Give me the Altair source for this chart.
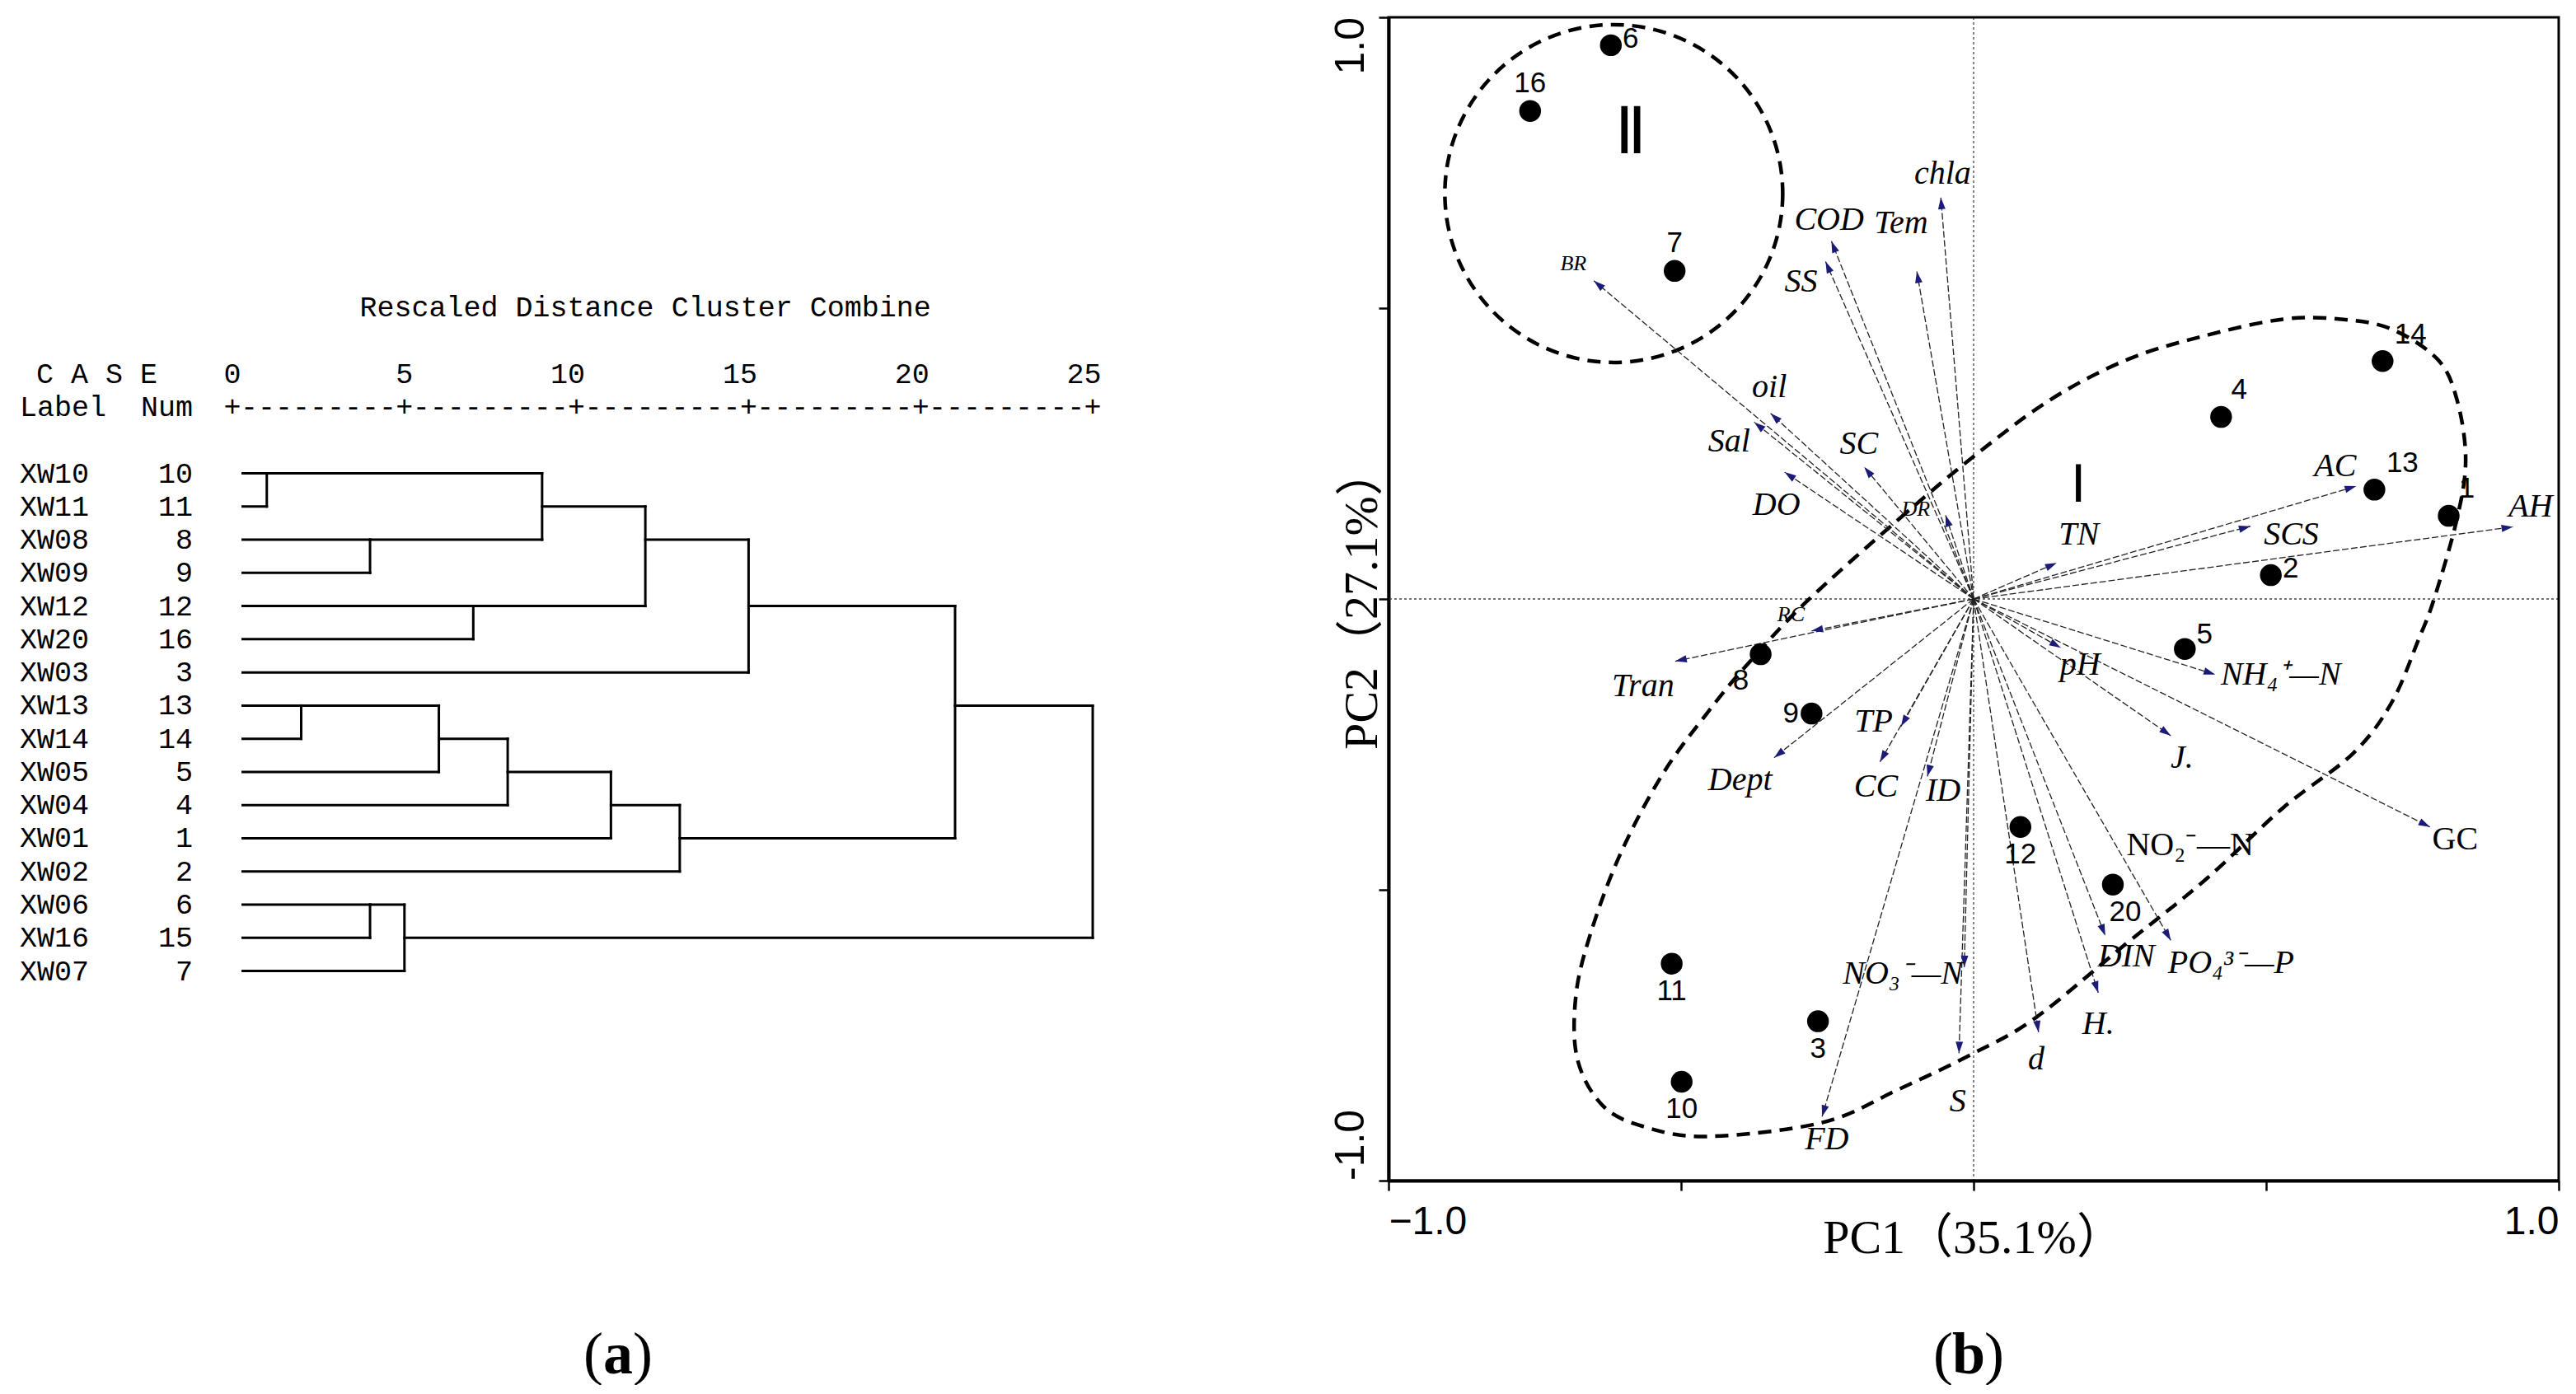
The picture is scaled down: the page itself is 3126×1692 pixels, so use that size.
import math
import pandas as pd
import altair as alt

# ===================== (a) cluster dendrogram =====================
CASE_LABELS = ["XW10", "XW11", "XW08", "XW09", "XW12", "XW20", "XW03", "XW13",
               "XW14", "XW05", "XW04", "XW01", "XW02", "XW06", "XW16", "XW07"]
CASE_NUMS = [10, 11, 8, 9, 12, 16, 3, 13, 14, 5, 4, 1, 2, 6, 15, 7]
# agglomeration schedule: ids 0..15 are leaves (display order), merged clusters get 16, 17, ...
MERGE_A = [0, 2, 16, 4, 18, 20, 7, 22, 23, 24, 25, 13, 27, 21, 29]
MERGE_B = [1, 3, 17, 5, 19, 6, 8, 9, 10, 11, 12, 14, 15, 26, 28]
MERGE_DIST = [1, 4, 9, 7, 12, 15, 2, 6, 8, 11, 13, 4, 5, 21, 25]
DIST_TICKS = [0, 5, 10, 15, 20, 25]
LEAF_START = 0.3

# ===================== (b) PCA biplot =====================
SITE_IDS = ["6", "16", "7", "14", "4", "13", "1", "2", "5", "8", "9", "12", "20", "11", "3", "10"]
SITE_PC1 = [-0.620, -0.758, -0.511, 0.699, 0.423, 0.685, 0.812, 0.508, 0.361, -0.364,
            -0.277, 0.080, 0.238, -0.516, -0.266, -0.499]
SITE_PC2 = [0.952, 0.839, 0.564, 0.409, 0.313, 0.188, 0.143, 0.041, -0.086, -0.095,
            -0.197, -0.392, -0.491, -0.627, -0.726, -0.830]
SITE_LABEL_POS = ["r", "u", "u", "ur2", "ur1", "ur2", "ur1", "r", "ru", "dl", "l", "d", "dr", "d", "d", "d"]

VAR_NAMES = ["BR", "COD", "SS", "Tem", "chla", "oil", "Sal", "SC", "DO", "DR", "RC", "Tran",
             "Dept", "TP", "CC", "ID", "FD", "NO3", "S", "pH", "NH4", "J.", "GC", "DIN", "PO4",
             "H.", "d", "AC", "SCS", "TN", "AH"]
VAR_PC1 = [-0.649, -0.243, -0.253, -0.097, -0.056, -0.347, -0.375, -0.187, -0.323, -0.048,
           -0.277, -0.510, -0.341, -0.124, -0.160, -0.079, -0.259, -0.016, -0.025, 0.149,
           0.413, 0.337, 0.780, 0.225, 0.337, 0.213, 0.111, 0.654, 0.473, 0.142, 0.922]
VAR_PC2 = [0.547, 0.615, 0.580, 0.563, 0.690, 0.319, 0.304, 0.227, 0.218, 0.144,
           -0.055, -0.107, -0.273, -0.219, -0.280, -0.305, -0.890, -0.633, -0.781, -0.084,
           -0.130, -0.235, -0.392, -0.579, -0.587, -0.677, -0.745, 0.194, 0.125, 0.062, 0.124]

VLABEL_TEXT = ["BR", "COD", "SS", "Tem", "chla", "oil", "Sal", "SC", "DO", "DR", "RC", "Tran",
               "Dept", "TP", "CC", "ID", "FD", "NO₃⁻—N", "S", "pH", "NH₄⁺—N", "J.", "GC",
               "NO₂⁻—N", "DIN", "PO₄³⁻—P", "H.", "d", "AC", "SCS", "TN", "AH"]
VLABEL_X = [-0.684, -0.247, -0.295, -0.124, -0.053, -0.349, -0.418, -0.196, -0.337, -0.099,
            -0.312, -0.565, -0.399, -0.171, -0.167, -0.052, -0.251, -0.121, -0.027, 0.182,
            0.525, 0.356, 0.823, 0.370, 0.261, 0.440, 0.213, 0.107, 0.618, 0.543, 0.180, 0.952]
VLABEL_Y = [0.577, 0.652, 0.546, 0.646, 0.731, 0.364, 0.271, 0.266, 0.161, 0.155,
            -0.027, -0.150, -0.312, -0.211, -0.323, -0.330, -0.929, -0.644, -0.864, -0.114,
            -0.130, -0.273, -0.413, -0.424, -0.615, -0.626, -0.731, -0.792, 0.228, 0.110, 0.110, 0.158]
VLABEL_STYLE = ["s", "i", "i", "i", "i", "i", "i", "i", "i", "s", "s", "i",
                "i", "i", "i", "i", "i", "i", "i", "i", "i", "i", "u",
                "u", "i", "i", "i", "i", "i", "i", "i", "i"]

# dashed outline of group I (traced)
GROUP1_X = [-0.287, -0.128, 0.000, 0.132, 0.264, 0.397, 0.529, 0.628, 0.714, 0.793, 0.826,
            0.841, 0.826, 0.787, 0.760, 0.714, 0.648, 0.529, 0.397, 0.264, 0.106, 0.000,
            -0.128, -0.258, -0.453, -0.561, -0.633, -0.677, -0.680, -0.655, -0.604, -0.532,
            -0.453, -0.388]
GROUP1_Y = [-0.006, 0.137, 0.245, 0.343, 0.412, 0.453, 0.481, 0.481, 0.464, 0.412, 0.343,
            0.240, 0.137, 0.000, -0.071, -0.179, -0.266, -0.359, -0.482, -0.590, -0.720, -0.781,
            -0.843, -0.900, -0.924, -0.908, -0.872, -0.792, -0.684, -0.576, -0.439, -0.302,
            -0.193, -0.114]
# group II circle centre
GROUP2_X = [-0.615]
GROUP2_Y = [0.697]
GROUP_NAMES = ["Ⅰ", "Ⅱ"]
GROUP_LX = [0.179, -0.586]
GROUP_LY = [0.194, 0.799]
AXIS_TICKS = [-1.0, -0.5, 0.0, 0.5, 1.0]
EDGE_LABELS = ["1.0", "-1.0"]
EDGE_VALUES = [1.0, -1.0]

# ===================== styling =====================
SERIF = "Times New Roman, Liberation Serif, Noto Sans CJK SC, serif"
SANS = "Arial, Liberation Sans, DejaVu Sans, sans-serif"
NARROW = "Arial Narrow, Liberation Sans Narrow, Liberation Sans, sans-serif"
MONO = "Courier New, Liberation Mono, DejaVu Sans Mono, monospace"

# ---------- left panel ----------
WL, HL = 1400, 1414
xl = alt.Scale(domain=[-6.561, 26.963], nice=False, zero=False)
yl = alt.Scale(domain=[-13.745, 21.368], nice=False, zero=False, reverse=True)


def LX(f):
    return alt.X(f"{f}:Q", scale=xl, axis=None)


def LY(f):
    return alt.Y(f"{f}:Q", scale=yl, axis=None)


pos = {i: (i, LEAF_START) for i in range(len(CASE_LABELS))}
segs = []
for k, (a, b, h) in enumerate(zip(MERGE_A, MERGE_B, MERGE_DIST)):
    ra, xa = pos[a]
    rb, xb = pos[b]
    segs.append(dict(x=xa, x2=h, y=ra, y2=ra))
    segs.append(dict(x=xb, x2=h, y=rb, y2=rb))
    segs.append(dict(x=h, x2=h, y=min(ra, rb), y2=max(ra, rb)))
    pos[len(CASE_LABELS) + k] = ((ra + rb) // 2, h)
seg_df = pd.DataFrame(segs)

dendro = alt.Chart(seg_df).mark_rule(color="black", strokeWidth=3, strokeCap="square").encode(
    x=LX("x"), x2="x2:Q", y=LY("y"), y2="y2:Q")

leaf_df = pd.DataFrame({"row": list(range(len(CASE_LABELS))), "label": CASE_LABELS,
                        "num": [str(n) for n in CASE_NUMS]})
txt = dict(font=MONO, fontSize=35, color="black", baseline="middle")
leaf_lab = alt.Chart(leaf_df).mark_text(align="left", **txt).encode(
    x=alt.value(16), y=LY("row"), text="label:N")
leaf_num = alt.Chart(leaf_df).mark_text(align="right", **txt).encode(
    x=alt.value(226), y=LY("row"), text="num:N")

tick_df = pd.DataFrame({"v": DIST_TICKS, "t": [str(v) for v in DIST_TICKS],
                        "r_num": -3, "r_rule": -2})
tick_num = alt.Chart(tick_df).mark_text(align="right", dx=10.5, **txt).encode(
    x=LX("v"), y=LY("r_num"), text="t:N")
tick_plus = alt.Chart(tick_df).mark_text(align="center", **txt).encode(
    x=LX("v"), y=LY("r_rule"), text=alt.value("+"))
mids = [(DIST_TICKS[i] + DIST_TICKS[i + 1]) / 2 for i in range(len(DIST_TICKS) - 1)]
dash_df = pd.DataFrame({"v": mids, "r": -2})
tick_dash = alt.Chart(dash_df).mark_text(align="center", **txt).encode(
    x=LX("v"), y=LY("r"), text=alt.value("---------"))

hdr_df = pd.DataFrame({"r": [-5], "v": [12.0]})
title_a = alt.Chart(hdr_df).mark_text(align="center", **txt).encode(
    x=LX("v"), y=LY("r"), text=alt.value("Rescaled Distance Cluster Combine"))
case_df = pd.DataFrame({"r": [-3, -2, -2], "t": ["C A S E", "Label", "Num"]})
case_l = alt.Chart(case_df).transform_filter("datum.t == 'C A S E'").mark_text(align="left", **txt).encode(
    x=alt.value(36), y=LY("r"), text="t:N")
lab_l = alt.Chart(case_df).transform_filter("datum.t == 'Label'").mark_text(align="left", **txt).encode(
    x=alt.value(16), y=LY("r"), text="t:N")
num_l = alt.Chart(case_df).transform_filter("datum.t == 'Num'").mark_text(align="right", **txt).encode(
    x=alt.value(226), y=LY("r"), text="t:N")

one = pd.DataFrame({"a": [0]})
CAP_Y = 1645.5
cap = dict(font=SERIF, fontSize=72, color="black", baseline="alphabetic")
a1 = alt.Chart(one).mark_text(align="right", **cap).encode(x=alt.value(742 - 18), y=alt.value(CAP_Y), text=alt.value("("))
a2 = alt.Chart(one).mark_text(align="center", fontWeight="bold", **cap).encode(x=alt.value(742), y=alt.value(CAP_Y), text=alt.value("a"))
a3 = alt.Chart(one).mark_text(align="left", **cap).encode(x=alt.value(742 + 18), y=alt.value(CAP_Y), text=alt.value(")"))

left = alt.layer(dendro, leaf_lab, leaf_num, tick_num, tick_plus, tick_dash, title_a,
                 case_l, lab_l, num_l, a1, a2, a3).properties(width=WL, height=HL)

# ---------- right panel ----------
W, H = 1420, 1412
xs = alt.Scale(domain=[-1, 1], nice=False, zero=False)
ys = alt.Scale(domain=[-1, 1], nice=False, zero=False)
AX_X = alt.Axis(values=AXIS_TICKS, title=None, grid=False, domainColor="black", domainWidth=4,
                tickColor="black", tickWidth=2.5, tickSize=12,
                labelExpr="abs(datum.value) == 1 ? format(datum.value, '.1f') : ''",
                labelFlush=True, labelFont=NARROW, labelFontSize=48, labelColor="black",
                labelPadding=14)
AX_Y = alt.Axis(values=AXIS_TICKS, title=None, grid=False, domainColor="black", domainWidth=4,
                tickColor="black", tickWidth=2.5, tickSize=12, labels=False)


def RX(f):
    return alt.X(f"{f}:Q", scale=xs, axis=AX_X)


def RY(f):
    return alt.Y(f"{f}:Q", scale=ys, axis=AX_Y)


zero_df = pd.DataFrame({"v": [0.0]})
vline = alt.Chart(zero_df).mark_rule(color="#444", strokeWidth=1.3, strokeDash=[3, 3]).encode(x=RX("v"))
hline = alt.Chart(zero_df).mark_rule(color="#444", strokeWidth=1.3, strokeDash=[3, 3]).encode(y=RY("v"))

g1_df = pd.DataFrame({"x": GROUP1_X, "y": GROUP1_Y, "i": list(range(len(GROUP1_X)))})
group1 = alt.Chart(g1_df).mark_line(interpolate="cardinal-closed", color="black", strokeWidth=4.5,
                                    strokeDash=[16, 10]).encode(x=RX("x"), y=RY("y"), order="i:Q")
g2_df = pd.DataFrame({"x": GROUP2_X, "y": GROUP2_Y})
group2 = alt.Chart(g2_df).mark_point(shape="circle", filled=False, color="black", strokeWidth=4.5,
                                     strokeDash=[16, 10], size=410 * 410, opacity=1).encode(
    x=RX("x"), y=RY("y"))

var_df = pd.DataFrame({"name": VAR_NAMES, "x": VAR_PC1, "y": VAR_PC2, "ox": 0.0, "oy": 0.0})
var_df["ang"] = [(math.degrees(math.atan2(x, y)) + 360) % 360 for x, y in zip(VAR_PC1, VAR_PC2)]
arrows = alt.Chart(var_df).mark_rule(color="#222", strokeWidth=1.3, strokeDash=[8, 3]).encode(
    x=RX("ox"), y=RY("oy"), x2="x:Q", y2="y:Q")
heads = alt.Chart(var_df).mark_point(shape="M0,0L0.32,1L-0.32,1Z", filled=True, color="#1c1c78",
                                     size=784, opacity=1, strokeWidth=0).encode(
    x=RX("x"), y=RY("y"), angle=alt.Angle("ang:Q", scale=None))

site_df = pd.DataFrame({"id": SITE_IDS, "x": SITE_PC1, "y": SITE_PC2, "pos": SITE_LABEL_POS})
sites = alt.Chart(site_df).mark_point(shape="circle", filled=True, color="black", size=700, opacity=1).encode(
    x=RX("x"), y=RY("y"))
OFFS = {"u": (0, -34), "d": (0, 33), "r": (24, -8), "ur1": (22, -33), "ur2": (34, -32),
        "ru": (24, -18), "l": (-25, 0), "dl": (-24, 32), "dr": (15, 33)}
site_labels = []
for code, (dx, dy) in OFFS.items():
    site_labels.append(
        alt.Chart(site_df).transform_filter(f"datum.pos == '{code}'").mark_text(
            font=SANS, fontSize=35, color="black", align="center", baseline="middle", dx=dx, dy=dy
        ).encode(x=RX("x"), y=RY("y"), text="id:N"))

vl_df = pd.DataFrame({"t": VLABEL_TEXT, "x": VLABEL_X, "y": VLABEL_Y, "s": VLABEL_STYLE})
STY = {"i": dict(fontStyle="italic", fontSize=40), "s": dict(fontStyle="italic", fontSize=26),
       "u": dict(fontStyle="normal", fontSize=40)}
var_labels = []
for code, st in STY.items():
    var_labels.append(
        alt.Chart(vl_df).transform_filter(f"datum.s == '{code}'").mark_text(
            font=SERIF, color="black", align="center", baseline="middle", **st
        ).encode(x=RX("x"), y=RY("y"), text="t:N"))

grp_df = pd.DataFrame({"t": GROUP_NAMES, "x": GROUP_LX, "y": GROUP_LY})
grp1 = alt.Chart(grp_df).transform_filter("datum.t == 'Ⅰ'").mark_text(
    font=SANS, fontSize=62, color="black", align="center", baseline="middle").encode(
    x=RX("x"), y=RY("y"), text="t:N")
grp2 = alt.Chart(grp_df).transform_filter("datum.t == 'Ⅱ'").mark_text(
    font=SANS, fontSize=78, color="black", align="center", baseline="middle").encode(
    x=RX("x"), y=RY("y"), text="t:N")

frame = alt.Chart(one).mark_rect(filled=False, color="black", strokeWidth=3).encode(
    x=alt.value(0), x2=alt.value(W), y=alt.value(0), y2=alt.value(H))

edge_df = pd.DataFrame({"t": EDGE_LABELS, "v": EDGE_VALUES})
ylab_top = alt.Chart(edge_df).transform_filter("datum.v > 0").mark_text(
    font=NARROW, fontSize=50, color="black", angle=270, align="right", baseline="alphabetic").encode(
    x=alt.value(-30), y=RY("v"), text="t:N")
ylab_bot = alt.Chart(edge_df).transform_filter("datum.v < 0").mark_text(
    font=NARROW, fontSize=50, color="black", angle=270, align="left", baseline="alphabetic").encode(
    x=alt.value(-30), y=RY("v"), text="t:N")
ytitle = alt.Chart(zero_df).mark_text(font=SERIF, fontSize=58, color="black", angle=270,
                                      align="center", baseline="alphabetic").encode(
    x=alt.value(-14), y=RY("v"), text=alt.value("PC2（27.1%）"))
xtitle = alt.Chart(zero_df).mark_text(font=SERIF, fontSize=58, color="black",
                                      align="center", baseline="alphabetic").encode(
    x=RX("v"), y=alt.value(H + 88), text=alt.value("PC1（35.1%）"))
BX = 704
b1 = alt.Chart(one).mark_text(align="right", **cap).encode(x=alt.value(BX - 19), y=alt.value(CAP_Y), text=alt.value("("))
b2 = alt.Chart(one).mark_text(align="center", fontWeight="bold", **cap).encode(x=alt.value(BX), y=alt.value(CAP_Y), text=alt.value("b"))
b3 = alt.Chart(one).mark_text(align="left", **cap).encode(x=alt.value(BX + 19), y=alt.value(CAP_Y), text=alt.value(")"))

right = alt.layer(vline, hline, group1, group2, arrows, heads, sites, *site_labels, *var_labels,
                  grp1, grp2, frame, ylab_top, ylab_bot, ytitle, xtitle, b1, b2, b3).properties(
    width=W, height=H)

chart = alt.hconcat(left, right, spacing=277, bounds="flush").properties(
    padding={"left": 0, "top": 11, "right": 0, "bottom": 0}
).configure_view(stroke=None)

chart.save("out.html", embed_options={"renderer": "svg", "actions": False})
